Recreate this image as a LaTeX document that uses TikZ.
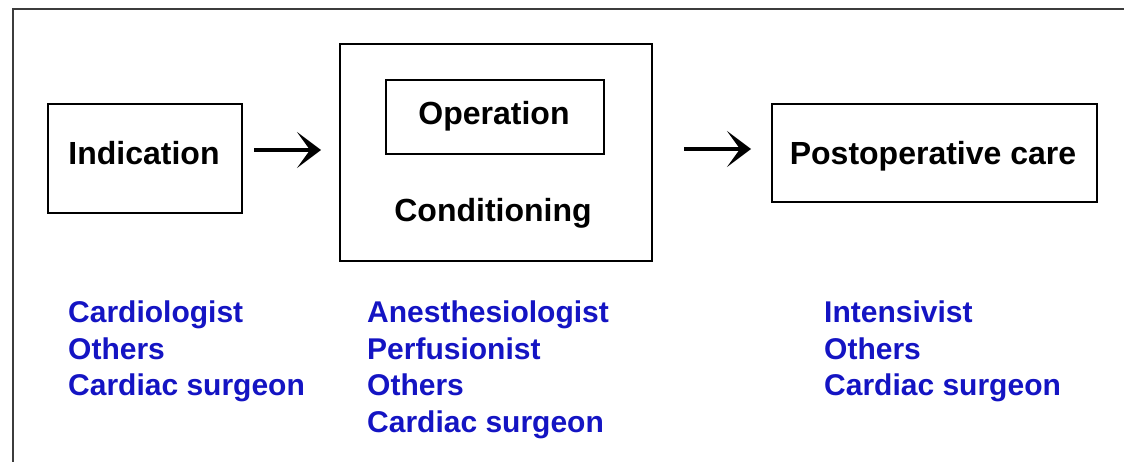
\documentclass[tikz,border=0pt]{standalone}
\usepackage{fontspec}
\setmainfont{Liberation Sans}
\usetikzlibrary{arrows.meta}
\definecolor{roleblue}{RGB}{20,20,195}
\definecolor{frame}{RGB}{60,60,60}
\tikzset{
  box/.style={draw=black, line width=1.6pt, inner sep=0pt},
  label/.style={font=\fontsize{32}{36}\selectfont\bfseries, inner sep=0pt, anchor=base},
  roles/.style={font=\fontsize{30}{36.5}\selectfont\bfseries, text=roleblue, inner sep=0pt, anchor=north west, align=left},
  flow/.style={line width=3.4pt, -{Stealth[length=24pt,width=36pt,inset=13pt]}}
}
\begin{document}
\begin{tikzpicture}[x=1pt,y=-1pt]
\useasboundingbox (0,0) rectangle (1124,462);
% outer frame (only top and left edges visible)
\coordinate (fbl) at (13,470);
\coordinate (ftl) at (13,9);
\coordinate (ftr) at (1130,9);
\draw[frame, line width=2.6pt] (fbl) -- (ftl) -- (ftr);
% boxes
\node[box, minimum width=194pt, minimum height=109pt] (ind) at (145,158.5) {};
\node[label] (indt) at (144,164.5) {Indication};
\node[box, minimum width=312pt, minimum height=217pt] (cond) at (496,152.5) {};
\node[box, minimum width=218pt, minimum height=74pt] (op) at (495,117) {};
\node[label] (opt) at (494,125) {Operation};
\node[label] (condt) at (493,221.5) {Conditioning};
\node[box, minimum width=325pt, minimum height=98pt] (post) at (934.5,153) {};
\node[label] (postt) at (933,165) {Postoperative care};
% arrows
\coordinate (a1s) at (254,150);
\coordinate (a1e) at (321,150);
\coordinate (a2s) at (684,149);
\coordinate (a2e) at (751,149);
\draw[flow] (a1s) -- (a1e);
\draw[flow] (a2s) -- (a2e);
% roles
\node[roles] (r1) at (68,301) {Cardiologist\\Others\\Cardiac surgeon};
\node[roles] (r2) at (367,301) {Anesthesiologist\\Perfusionist\\Others\\Cardiac surgeon};
\node[roles] (r3) at (824,301) {Intensivist\\Others\\Cardiac surgeon};
\end{tikzpicture}
\end{document}
